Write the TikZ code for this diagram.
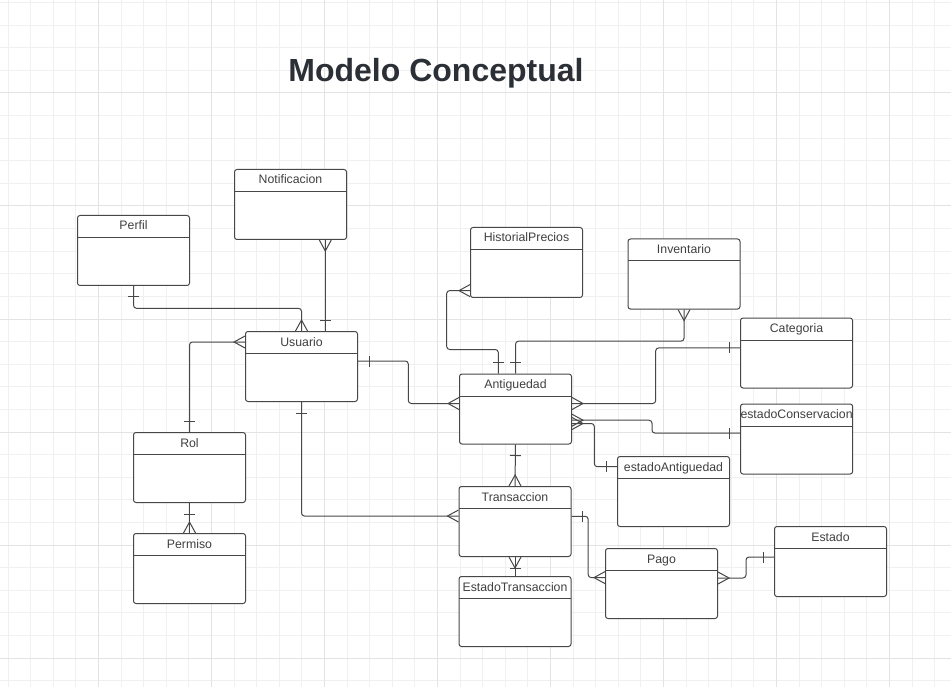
\documentclass[tikz,border=0pt]{standalone}
\usepackage{fontspec}
\setmainfont{Liberation Sans}
\usetikzlibrary{decorations.markings}
\colorlet{linea}{black!72}
\colorlet{texto}{black!75}
\definecolor{titulocol}{HTML}{2B2F36}
\colorlet{rejillamenor}{black!6}
\colorlet{rejillamayor}{black!11}
\newcommand{\etiqueta}{\fontsize{12.3}{14}\selectfont}
\tikzset{
  entidad/.style={draw=linea, line width=1pt, rounded corners=2.5pt, fill=white,
    anchor=north west, minimum width=112pt, inner xsep=0pt, inner ysep=5pt,
    text height=9.5pt, text depth=50.5pt, font=\etiqueta, text=texto,
    path picture={\draw[linea, line width=1pt]
      ([yshift=-22pt]path picture bounding box.north west) --
      ([yshift=-22pt]path picture bounding box.north east);}},
  enlace/.style={draw=linea, line width=1pt, rounded corners=3pt},
  muchosinicio/.style={postaction={decorate, decoration={markings,
    mark=at position 0 with {\draw[linea, line width=1pt, sharp corners]
      (0pt,6pt) -- (11pt,0pt) -- (0pt,-6pt);}}}},
  muchosfin/.style={postaction={decorate, decoration={markings,
    mark=at position 1 with {\draw[linea, line width=1pt, sharp corners]
      (0pt,6pt) -- (-11pt,0pt) -- (0pt,-6pt);}}}},
  unoinicio/.style={postaction={decorate, decoration={markings,
    mark=at position 0 with {\draw[linea, line width=1pt]
      (11pt,5.5pt) -- (11pt,-5.5pt);}}}},
  unofin/.style={postaction={decorate, decoration={markings,
    mark=at position 1 with {\draw[linea, line width=1pt]
      (-11pt,5.5pt) -- (-11pt,-5.5pt);}}}}
}
\begin{document}
\begin{tikzpicture}[x=1pt, y=-1pt]
  \useasboundingbox (0,0) rectangle (951,687);
  \fill[white] (0,0) rectangle (951,687);
  % rejilla
  \foreach \k in {0,...,41}
    \draw[rejillamenor, line width=0.8pt] (8+22.6*\k,0) -- (8+22.6*\k,687);
  \foreach \k in {0,...,30}
    \draw[rejillamenor, line width=0.8pt] (0,2.5+22.6*\k) -- (951,2.5+22.6*\k);
  \foreach \k in {4,9,...,39}
    \draw[rejillamayor, line width=0.8pt] (8+22.6*\k,0) -- (8+22.6*\k,687);
  \foreach \k in {4,9,...,29}
    \draw[rejillamayor, line width=0.8pt] (0,2.5+22.6*\k) -- (951,2.5+22.6*\k);

  \node[font=\fontsize{32}{38}\selectfont\bfseries, text=titulocol, anchor=base]
    (titulo) at (436,81.7) {Modelo Conceptual};

  % entidades
  \node[entidad] (perfil) at (77,215) {Perfil};
  \node[entidad] (notificacion) at (234,169) {Notificacion};
  \node[entidad] (usuario) at (245,331) {Usuario};
  \node[entidad] (rol) at (133,432) {Rol};
  \node[entidad] (permiso) at (133,533) {Permiso};
  \node[entidad] (historial) at (470,227) {HistorialPrecios};
  \node[entidad] (inventario) at (627.5,238.5) {Inventario};
  \node[entidad] (antiguedad) at (459,373.5) {Antiguedad};
  \node[entidad] (categoria) at (740,317.5) {Categoria};
  \node[entidad] (conservacion) at (740,403.5) {estadoConservacion};
  \node[entidad] (estAntiguedad) at (617,456) {estadoAntiguedad};
  \node[entidad] (transaccion) at (458.5,486) {Transaccion};
  \node[entidad] (estTransaccion) at (458.5,576) {EstadoTransaccion};
  \node[entidad] (pago) at (605,548) {Pago};
  \node[entidad] (estado) at (774,526) {Estado};

  % relaciones
  \draw[enlace, unoinicio, muchosfin] (perfil.south) |- ([yshift=22.7pt]usuario.north) -- (usuario.north);
  \draw[enlace, muchosinicio, unofin] ([xshift=-21.7pt]notificacion.south east) -- ([xshift=-21.7pt]notificacion.south east |- usuario.north);
  \draw[enlace, unoinicio, muchosfin] (rol.north) |- ([yshift=-11pt]usuario.north west);
  \draw[enlace, unoinicio, muchosfin] (rol.south) -- (permiso.north);
  \draw[enlace, unoinicio, muchosfin] ([yshift=-30pt]usuario.north east) -- ++(50.3,0) |- ([yshift=-30pt]antiguedad.north west);
  \draw[enlace, unoinicio, muchosfin] (usuario.south) |- ([yshift=-30pt]transaccion.north west);
  \draw[enlace, unoinicio, muchosfin] ([xshift=39.3pt]antiguedad.north west) -- ++(0,-24) -| ([xshift=-23.3pt, yshift=7.4pt]historial.south west) -- ([yshift=7.4pt]historial.south west);
  \draw[enlace, unoinicio, muchosfin] (antiguedad.north) -- ++(0,-32.3) -| (inventario.south);
  \draw[enlace, unoinicio, muchosfin] ([yshift=-30.4pt]categoria.north west) -- ++(-84.3,0) |- ([yshift=-30pt]antiguedad.north east);
  \draw[enlace, muchosinicio, unofin] ([yshift=-46.7pt]antiguedad.north east) -- ++(80,0) |- ([yshift=-29.6pt]conservacion.north west);
  \draw[enlace, muchosinicio, unofin] ([yshift=-50pt]antiguedad.north east) -- ++(22.3,0) |- ([yshift=-10.7pt]estAntiguedad.north west);
  \draw[enlace, unoinicio, muchosfin] (antiguedad.south) -- (transaccion.north);
  \draw[enlace, muchosinicio, unoinicio] (transaccion.south) -- (estTransaccion.north);
  \draw[enlace, unoinicio, muchosfin] ([yshift=-30.3pt]transaccion.north east) -- ++(16.7,0) |- ([yshift=-29.6pt]pago.north west);
  \draw[enlace, muchosinicio, unofin] ([yshift=-30pt]pago.north east) -- ++(28,0) |- ([yshift=-31pt]estado.north west);
\end{tikzpicture}
\end{document}
